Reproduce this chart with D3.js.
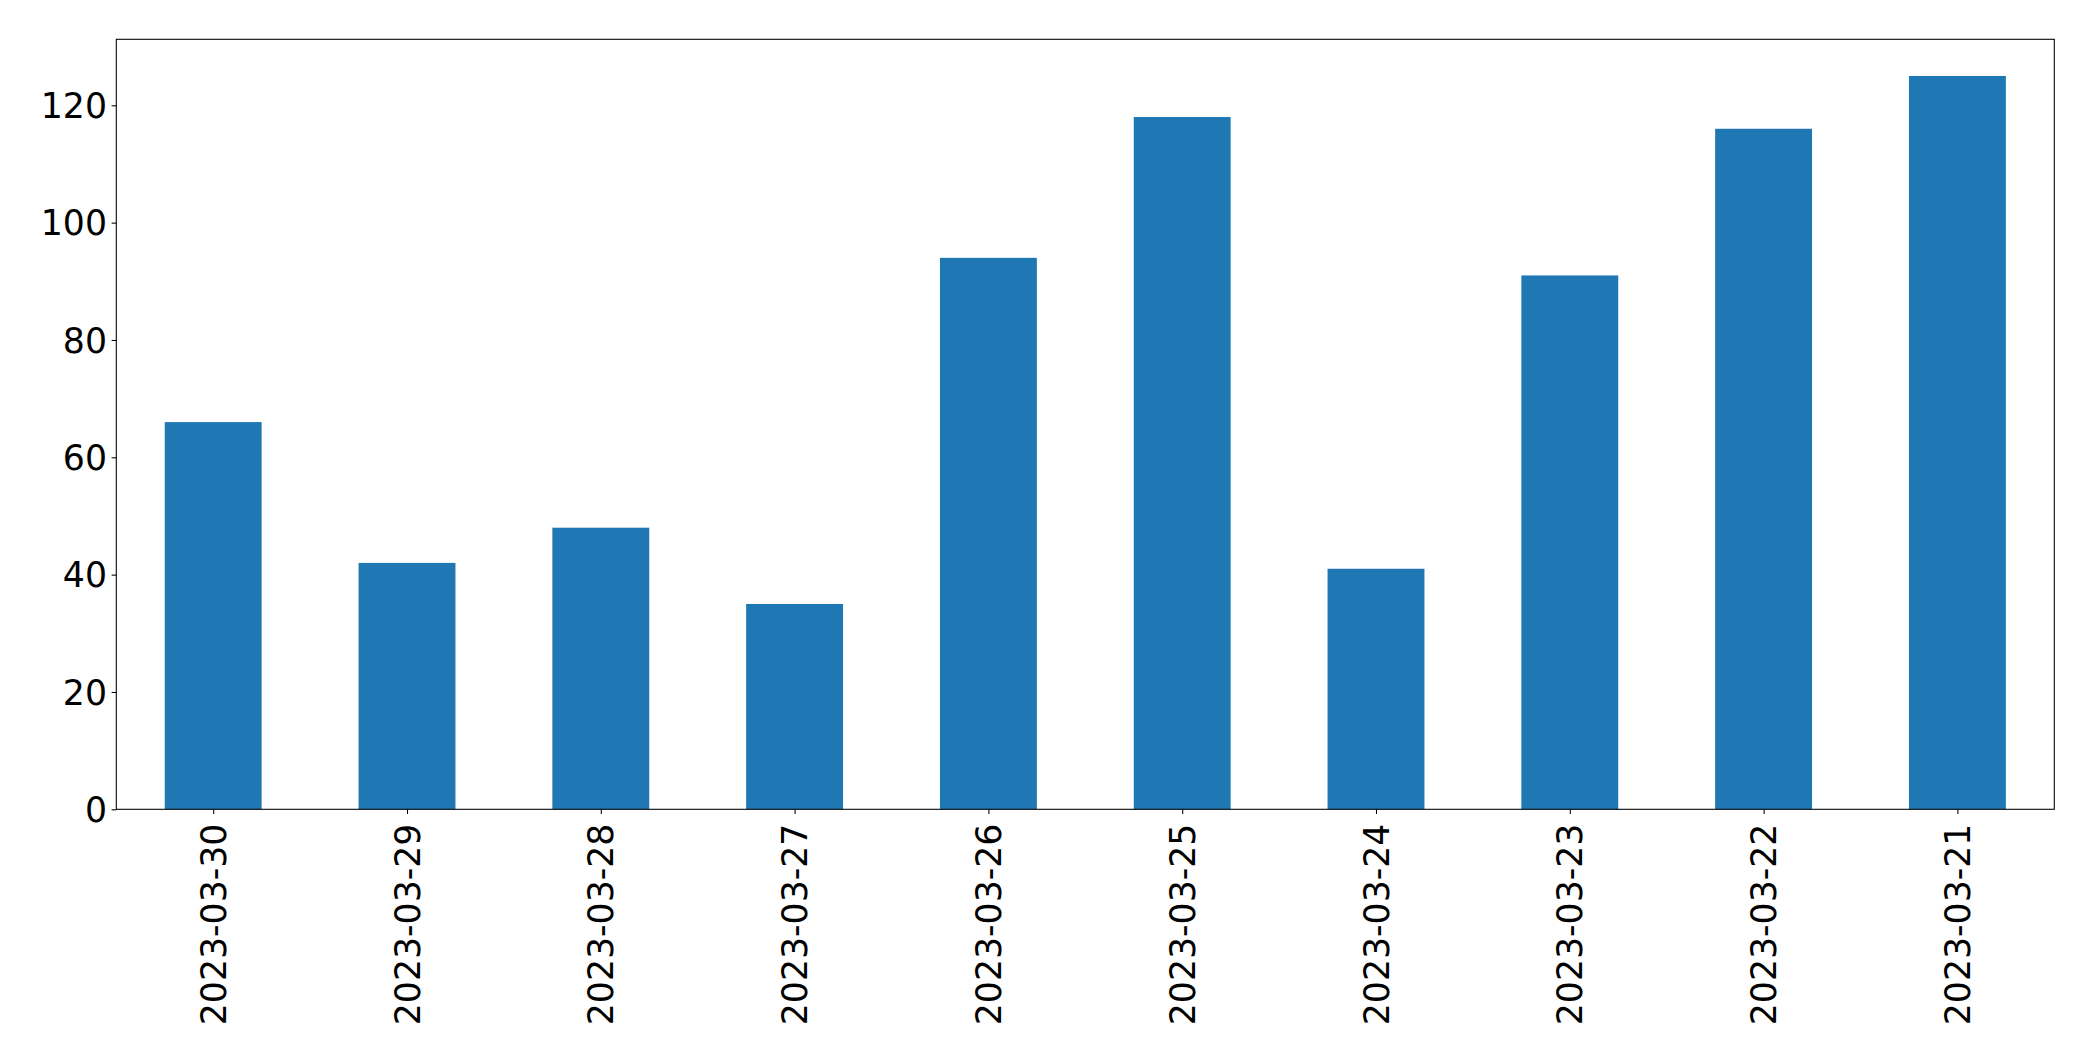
<!DOCTYPE html>
<html>
<head>
<meta charset="utf-8">
<script src="https://cdn.jsdelivr.net/npm/d3@7"></script>
<style>
html,body{margin:0;padding:0;background:#fff;}
svg{display:block;}
text{font-family:"DejaVu Sans",sans-serif;fill:#000;}
</style>
</head>
<body>
<svg id="chart" width="2093" height="1061"></svg>
<script>
const categories = ["2023-03-30","2023-03-29","2023-03-28","2023-03-27","2023-03-26","2023-03-25","2023-03-24","2023-03-23","2023-03-22","2023-03-21"];
const values = [66, 42, 48, 35, 94, 118, 41, 91, 116, 125];
const yTicks = [0, 20, 40, 60, 80, 100, 120];

const W = 2093, H = 1061;
const m = {left: 116.3, top: 39.3, right: 2093 - 2054.3, bottom: 1061 - 809.3};
const svg = d3.select("#chart");
const pw = W - m.left - m.right, ph = H - m.top - m.bottom;
const g = svg.append("g").attr("transform", `translate(${m.left},${m.top})`);

const n = categories.length;
const x = d3.scaleLinear().domain([-0.5, n - 0.5]).range([0, pw]);
const y = d3.scaleLinear().domain([0, d3.max(values) * 1.05]).range([ph, 0]);

g.selectAll("rect.bar").data(values).enter().append("rect")
  .attr("class", "bar")
  .attr("x", (d, i) => x(i - 0.25))
  .attr("width", (d, i) => x(i + 0.25) - x(i - 0.25))
  .attr("y", d => y(d))
  .attr("height", d => y(0) - y(d))
  .attr("fill", "#1f77b4");

const fs = 34.7;
const tickLen = 4.67, pad = 4.67;

// y axis
const yAxis = g.append("g").call(d3.axisLeft(y).tickValues(yTicks).tickSize(tickLen).tickPadding(pad));
yAxis.select(".domain").remove();
yAxis.selectAll("line").attr("stroke", "#000").attr("stroke-width", 1.07);
yAxis.selectAll("text").style("font-size", fs + "px").attr("dy", "0.35em");

// x axis
const xAxis = g.append("g").attr("transform", `translate(0,${ph})`)
  .call(d3.axisBottom(x).tickValues(d3.range(n)).tickFormat(i => categories[i]).tickSize(tickLen).tickPadding(pad));
xAxis.select(".domain").remove();
xAxis.selectAll("line").attr("stroke", "#000").attr("stroke-width", 1.07);
xAxis.selectAll("text")
  .style("font-size", fs + "px")
  .attr("text-anchor", "end")
  .attr("x", 0).attr("y", 0).attr("dy", "0.35em")
  .attr("transform", `translate(0,${tickLen + pad + 5}) rotate(-90)`);

// frame
g.append("rect").attr("x", 0).attr("y", 0).attr("width", pw).attr("height", ph)
  .attr("fill", "none").attr("stroke", "#000").attr("stroke-width", 1.07);
</script>
</body>
</html>
